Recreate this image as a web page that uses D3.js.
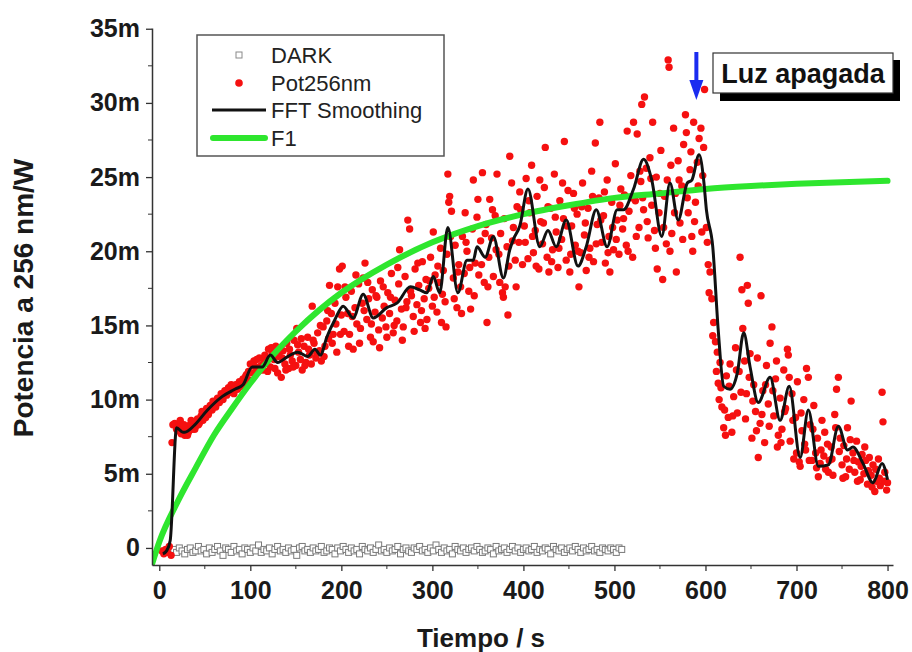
<!DOCTYPE html>
<html>
<head>
<meta charset="utf-8">
<script src="https://cdnjs.cloudflare.com/ajax/libs/d3/7.8.5/d3.min.js"></script>
<style>
  body { margin: 0; background: #fff; }
  svg { display: block; font-family: "Liberation Sans", Arial, sans-serif; }
</style>
</head>
<body>
<svg id="chart" width="912" height="652"></svg>
<script>
// ---- data (values in mW) ----
var xTicks = [0, 100, 200, 300, 400, 500, 600, 700, 800];
var yTicks = [0, 5, 10, 15, 20, 25, 30, 35];
var legendLabels = ["DARK", "Pot256nm", "FFT Smoothing", "F1"];
var noteText = "Luz apagada";
var noteTime = 590;

// DARK: one reading every 3 s starting at 13 s
var darkStart = 13, darkStep = 3;
var darkValues = [
  -0.2, -0.1, -0.3, 0.0, -0.2, -0.4, -0.1, 0.0, -0.3, -0.2,
  0.1, -0.2, -0.1, -0.4, 0.0, -0.3, -0.1, 0.1, -0.2, -0.5,
  0.0, -0.1, -0.3, 0.1, -0.2, -0.1, -0.4, 0.0, -0.1, -0.3,
  0.0, -0.2, 0.2, -0.3, -0.1, -0.2, 0.0, -0.4, -0.1, 0.1,
  -0.2, -0.1, -0.3, 0.0, -0.2, -0.1, -0.5, 0.0, 0.1, -0.2,
  -0.1, -0.3, 0.0, -0.2, -0.1, 0.1, -0.3, -0.2, 0.0, -0.1,
  -0.4, 0.0, -0.2, 0.1, -0.1, -0.3, 0.0, -0.2, -0.1, -0.4,
  0.1, -0.1, -0.2, 0.0, -0.3, -0.1, 0.2, -0.2, -0.1, -0.3,
  0.0, -0.2, -0.1, 0.1, -0.4, -0.1, 0.0, -0.2, -0.3, 0.0,
  -0.1, 0.1, -0.2, -0.1, -0.3, 0.0, -0.2, 0.2, -0.1, -0.3,
  0.0, -0.2, -0.1, -0.4, 0.1, -0.1, -0.2, 0.0, -0.3, -0.1,
  0.0, -0.2, 0.1, -0.1, -0.3, -0.2, 0.0, -0.1, -0.4, 0.1,
  -0.2, -0.1, 0.0, -0.3, -0.1, 0.1, -0.2, 0.0, -0.3, -0.1,
  0.0, -0.2, -0.1, 0.1, -0.3, -0.1, -0.2, 0.0, -0.1, -0.4,
  0.1, -0.1, -0.2, 0.0, -0.3, -0.1, 0.0, -0.2, 0.1, -0.1,
  -0.3, 0.0, -0.2, -0.1, 0.1, -0.2, -0.1, -0.3, 0.0, -0.1,
  -0.2, 0.0, -0.1, -0.3, 0.0, -0.1
];

// Pot256nm scatter [t, value]
var potRise = [
  [3,-0.2],[5,-0.4],[7,-0.1],[9,-0.3],[11,0.1],[13,-0.5],[14,7.1],[15,8.3],[17,8.4],[19,8.0],[21,7.9],
  [22,8.2],[24,7.7],[26,8.0],[28,7.6],[30,8.1],[32,7.8],[34,8.3],[36,8.0],[38,8.5],[40,8.2],[42,8.7],
  [44,8.4],[46,8.9],[48,8.6],[50,9.1],[52,9.4],[54,9.0],[56,9.6],[58,9.3],[60,9.8],[62,9.5],[64,10.1],
  [66,9.8],[68,10.4],[70,10.0],[72,10.6],[74,10.3],[76,10.8],[78,10.5],[80,10.9],[82,10.4],[84,11.0],
  [86,10.7],[88,11.2],[90,10.9],[92,11.4],[94,11.0],[96,11.7],[98,11.9],[100,12.4],[102,11.8],[104,12.6],
  [106,12.2],[108,11.9],[110,12.8],[112,12.3],[114,12.0],[116,13.0],
  [118,12.6],[120,13.4],[122,12.2],[124,13.1],[126,12.7],[128,13.6],[130,11.8],[132,12.9],[134,11.5],
  [136,13.3],[138,12.4],[140,13.8],[142,12.1],[144,13.0],[146,12.6],[148,14.0],[150,12.3],[151,14.8],
  [153,13.2],[155,12.7],[157,12.0],[159,13.6],[161,12.5],[163,14.2],[165,13.0],[167,12.4],[168,16.3],
  [170,13.8],[172,12.8],[174,14.5],[176,13.3],[178,12.6],[180,14.9],[182,13.6],[184,15.3],[186,14.1],
  [187,17.7],[189,15.8],[191,14.4],[193,16.5],[195,13.2],[196,17.6],[198,18.8],[200,15.7],[201,19.0],
  [23,8.6],[27,8.3],[31,7.6],[35,8.6],[39,8.0],[43,8.3],[47,9.2],[51,8.8],[55,9.3],[59,9.9],[63,9.8],
  [67,10.0],[71,10.3],[75,10.5],[79,11.0],[83,10.7],[87,10.9],[91,11.1],[95,11.6],[99,11.3],[103,12.3],
  [107,12.7],[111,12.0],[115,12.6],[119,11.9],[123,13.5],[127,12.1],[131,13.2],[135,12.8],[139,12.0],
  [143,13.4],[147,12.2],[152,13.7],[156,14.1],[160,12.3],[164,13.4],[169,14.0],[173,13.1],[177,15.0],
  [181,12.9],[185,16.0],[190,13.8],[194,15.1],[199,14.4]
];
var potMid = [
  [203,14.6],[205,16.9],[207,15.8],[209,14.4],[211,17.3],[213,13.4],[215,16.2],[217,15.1],[219,17.8],
  [221,14.8],[223,16.5],[224,18.2],[226,19.2],[228,15.4],[230,16.8],[232,14.2],[234,17.4],[235,13.9],
  [237,15.9],[239,16.9],[241,14.7],[243,18.0],[245,15.5],[247,16.3],[249,14.9],[251,17.2],[253,15.8],
  [255,18.5],[257,14.5],[259,16.7],[261,15.3],[263,17.8],[264,20.1],[266,16.1],[268,14.9],[270,18.3],
  [272,16.6],[273,22.1],[275,21.5],[277,17.0],[279,15.6],[281,18.8],[283,16.4],[285,17.7],[287,15.2],
  [289,19.3],[291,16.8],[293,18.1],[294,15.4],[296,17.5],[298,19.6],[300,16.3],[301,21.3],[303,18.4],
  [305,15.9],[307,17.9],[309,20.2],[310,15.2],[312,18.7],[314,16.6],[316,19.8],[317,25.2],[318,23.3],
  [319,23.7],[321,22.7],[323,18.2],[325,20.4],[327,16.2],[329,19.1],[331,17.6],[333,21.0],[335,18.5],
  [336,22.6],[338,20.0],[340,17.3],[342,16.1],[344,21.5],[345,24.8],[347,19.2],[349,22.3],[351,18.4],
  [353,20.7],[355,25.3],[357,17.9],[359,21.8],[360,15.2],[362,19.6],[363,23.5],[365,20.9],[367,18.3],
  [369,22.4],[371,25.2],[373,19.8],[375,21.2],[377,17.2],[378,16.9],[380,17.6],[382,20.3],[383,15.7],
  [385,26.4],[387,24.6],[389,21.6],[391,19.4],[393,23.0],[395,20.6],[397,22.8],[399,19.1],
  [204,17.6],[208,13.6],[212,15.6],[216,18.4],[220,13.8],[225,16.0],[229,17.9],[233,15.1],[238,17.0],
  [242,13.5],[246,17.6],[250,14.2],[254,16.9],[258,15.0],[262,18.9],[267,14.0],[271,16.2],[276,17.3],
  [280,14.6],[284,19.2],[288,16.0],[292,14.8],[297,18.0],[302,16.9],[306,19.0],[311,17.1],[315,14.9],
  [320,21.0],[324,16.8],[328,18.6],[332,15.8],[337,20.6],[341,18.9],[346,17.0],[350,23.5],[354,19.1],
  [358,21.2],[361,17.6],[366,22.8],[370,20.1],[374,17.9],[379,22.2],[384,19.0],[388,20.7],[392,17.6],
  [396,24.0]
];
var potTop = [
  [401,21.7],[403,24.9],[405,19.5],[407,22.6],[409,25.8],[411,19.9],[413,21.4],[415,23.7],[417,18.8],
  [419,22.0],[421,20.5],[423,24.3],[424,27.0],[426,19.6],[428,18.6],[430,22.9],[432,20.1],[434,25.2],
  [436,21.3],[438,18.9],[440,23.4],[442,20.8],[444,22.2],[445,27.4],[447,19.4],[449,24.1],[451,18.6],
  [453,21.7],[455,23.9],[457,20.4],[459,22.5],[461,17.6],[463,19.9],[465,24.6],[467,21.1],[469,18.7],
  [471,22.9],[473,20.2],[475,25.4],[477,19.3],[479,27.3],[481,21.8],[483,23.6],[484,28.7],[486,20.6],
  [488,22.4],[490,19.2],[492,24.8],[494,21.0],[495,18.6],[497,23.3],[499,20.1],[501,25.9],[503,22.1],
  [505,19.8],[507,24.2],[509,21.5],[511,23.8],[513,20.4],[514,28.1],[516,22.7],[518,25.1],[520,19.6],
  [521,28.7],[523,23.4],[525,27.9],[527,21.6],[529,24.7],[530,29.9],[532,22.8],[533,30.4],[535,25.6],
  [537,20.9],[539,26.3],[541,23.1],[542,28.7],[544,21.4],[546,25.0],[547,18.8],[549,22.6],[551,26.8],
  [553,18.1],[555,23.7],[557,20.5],[559,32.9],[560,32.4],[562,25.8],[563,21.2],[565,28.3],[567,23.9],
  [568,18.6],[570,26.1],[572,21.9],[574,24.4],[576,27.2],[578,29.2],[579,28.0],[581,22.6],[583,25.5],
  [585,21.0],[586,20.0],[587,28.7],[589,23.3],[591,26.0],[593,27.6],[595,28.3],[597,25.1],[598,27.0],
  [599,30.9],
  [402,20.6],[406,23.4],[410,21.0],[414,19.0],[418,24.8],[422,21.9],[427,23.0],[431,19.3],[435,22.3],
  [439,20.2],[443,24.6],[448,21.7],[452,19.8],[456,22.9],[460,20.0],[464,23.0],[468,21.9],[472,19.6],
  [476,23.7],[480,20.5],[485,22.1],[489,24.0],[493,19.9],[498,21.6],[502,20.8],[506,23.1],[510,22.2],
  [515,20.0],[519,23.6],[524,21.0],[528,25.4],[531,23.6],[536,22.0],[540,24.9],[545,20.2],[550,23.9],
  [554,21.6],[558,24.8],[561,20.0],[566,22.6],[571,24.8],[575,20.8],[580,23.6],[584,26.7],[588,22.0],
  [592,24.4],[596,21.3]
];
var potDecay = [
  [601,21.6],[602,20.6],[603,19.1],[605,18.6],[607,16.8],[609,15.2],[611,13.9],[613,13.2],[614,11.1],
  [615,10.0],[616,12.5],[618,9.5],[620,8.1],[621,9.3],[623,11.6],[625,8.8],[627,12.4],[629,7.8],
  [631,10.2],[633,13.5],[635,9.1],[637,11.9],[638,19.6],[640,17.4],[641,14.8],[643,12.6],[645,10.4],
  [646,17.7],[647,16.5],[649,13.1],[651,7.4],[653,11.0],[655,9.2],[657,12.8],[658,6.1],[660,8.4],
  [661,17.0],[663,10.6],[665,7.1],[667,12.3],[669,9.7],[671,13.8],[673,14.9],[675,8.9],[677,11.4],
  [679,6.8],[680,7.6],[682,10.1],[684,8.0],[686,12.0],[688,9.4],[690,13.4],[691,13.0],[693,7.2],
  [695,10.4],[697,6.0],[699,8.8],[701,11.2],[703,5.8],[704,5.5],[706,7.9],[708,10.0],[710,6.6],
  [711,12.1],[713,11.5],[715,8.3],[717,5.9],[719,9.6],[721,6.4],[723,7.4],[724,4.8],[726,5.7],
  [728,8.6],[730,6.2],[732,5.3],[734,7.0],[736,5.9],[738,6.8],[740,4.9],[742,9.0],[744,10.7],
  [746,11.5],[748,7.4],[750,5.6],[752,6.9],[754,4.8],[756,8.1],[758,5.3],[760,9.9],[762,6.4],
  [764,5.1],[766,7.2],[768,5.8],[770,4.6],[772,6.3],[774,5.0],[776,5.9],[778,4.3],[780,6.1],
  [782,4.9],[784,5.6],[786,3.8],[788,4.5],[790,6.0],[792,4.2],[794,10.5],[795,8.5],[797,5.1],
  [799,3.9],[800,4.4],
  [604,17.2],[608,14.3],[612,11.9],[617,10.8],[622,7.6],[626,10.9],[630,8.9],[634,12.0],[639,10.5],
  [644,8.7],[648,11.5],[652,9.9],[656,7.9],[662,9.0],[666,11.0],[670,8.2],[674,10.6],[678,12.6],
  [683,7.1],[687,9.2],[692,11.5],[696,8.6],[700,6.4],[705,9.1],[709,7.0],[714,5.9],[718,8.0],
  [722,5.4],[727,6.6],[731,7.8],[735,5.1],[739,6.0],[743,8.1],[747,6.5],[751,4.7],[755,6.0],
  [759,7.3],[763,5.9],[767,4.5],[771,5.5],[775,6.8],[779,5.2],[783,4.1],[787,5.3],[791,4.7],
  [796,4.5]
];

// FFT smoothing, sampled at its turning points
var fftCurve = [
  [4,-0.4],[8,-0.2],[12,0.5],[19,8.1],[26,7.8],[28,7.8],[39,8.3],[53,9.3],[69,10.2],[83,10.7],
  [92,11.0],[102,12.2],[113,12.2],[122,13.0],[130,12.5],[141,12.9],[152,13.2],[163,12.9],[171,13.4],
  [177,13.0],[184,14.2],[193,15.4],[202,16.3],[213,15.5],[224,17.1],[235,15.5],[250,16.2],[261,16.5],
  [276,17.6],[286,17.4],[294,17.2],[301,18.3],[308,17.2],[317,21.6],[328,17.2],[338,19.4],[345,19.4],
  [349,20.3],[358,19.6],[367,21.0],[378,18.2],[385,20.1],[389,20.8],[396,21.7],[405,24.2],[418,20.3],
  [427,21.4],[436,20.3],[447,22.1],[460,19.0],[469,20.3],[480,22.8],[492,20.3],[503,22.8],[510,22.8],
  [521,24.2],[532,26.2],[541,24.8],[552,21.0],[561,24.6],[570,22.1],[580,24.6],[585,24.8],[593,26.5],
  [598,24.8],[601,22.8],[608,20.3],[614,14.7],[620,10.9],[627,10.7],[635,11.8],[642,14.5],[649,12.2],
  [658,9.8],[671,11.5],[682,8.6],[692,10.9],[704,6.1],[713,9.3],[724,5.5],[735,5.6],[746,8.2],
  [756,6.6],[762,6.8],[773,5.7],[784,4.4],[794,5.7],[800,4.6]
];

// F1 fit curve, read at these times
var f1Time  = [-8, 0, 20, 40, 60, 80, 100, 125, 150, 175, 200, 250, 300, 350, 400, 450, 500, 550, 600, 650, 700, 750, 800];
var f1Value = [-1.1, 0.4, 3.1, 5.4, 7.6, 9.4, 11.1, 13.0, 14.6, 16.0, 17.2, 19.1, 20.6, 21.7, 22.5, 23.1, 23.6, 23.9, 24.2, 24.4, 24.55, 24.65, 24.75];

// ---- chart ----
var svg = d3.select("#chart");
var plotL = 152, plotR = 893, plotT = 28, plotB = 565;

var x = d3.scaleLinear().domain([-8, 806]).range([plotL, plotR]);
var y = d3.scaleLinear().domain([-1.15, 35.05]).range([plotB, plotT]);

svg.append("defs").append("clipPath").attr("id", "plotclip")
  .append("rect").attr("x", plotL).attr("y", plotT).attr("width", plotR - plotL).attr("height", plotB - plotT);

var plot = svg.append("g").attr("clip-path", "url(#plotclip)");

// DARK squares
var darkData = darkValues.map(function (v, i) { return [darkStart + darkStep * i, v]; });
plot.append("g").selectAll("rect").data(darkData).enter().append("rect")
  .attr("x", function (d) { return x(d[0]) - 3; })
  .attr("y", function (d) { return y(d[1]) - 3; })
  .attr("width", 6).attr("height", 6)
  .attr("fill", "#fff").attr("stroke", "#7a7a7a").attr("stroke-width", 1);

// red scatter
var potAll = potRise.concat(potMid, potTop, potDecay);
plot.append("g").selectAll("circle").data(potAll).enter().append("circle")
  .attr("cx", function (d) { return x(d[0]); })
  .attr("cy", function (d) { return y(d[1]); })
  .attr("r", 3.7)
  .attr("fill", "#f51010");

// F1 fit
var f1Data = f1Time.map(function (t, i) { return [t, f1Value[i]]; });
var line = d3.line()
  .x(function (d) { return x(d[0]); })
  .y(function (d) { return y(d[1]); });

plot.append("path").datum(f1Data)
  .attr("d", line.curve(d3.curveMonotoneX))
  .attr("fill", "none").attr("stroke", "#2ee62e").attr("stroke-width", 6)
  .attr("stroke-linecap", "round");

// FFT smoothing
plot.append("path").datum(fftCurve)
  .attr("d", line.curve(d3.curveMonotoneX))
  .attr("fill", "none").attr("stroke", "#111").attr("stroke-width", 3)
  .attr("stroke-linejoin", "round");

// axes
var xAxis = d3.axisBottom(x).tickValues(xTicks).tickSize(6).tickSizeOuter(0).tickPadding(10)
  .tickFormat(function (d) { return d; });
var yAxis = d3.axisLeft(y).tickValues(yTicks).tickSize(6).tickSizeOuter(0).tickPadding(6)
  .tickFormat(function (d) { return d === 0 ? "0" : d + "m"; });

var gx = svg.append("g").attr("transform", "translate(0," + plotB + ")").call(xAxis);
var gy = svg.append("g").attr("transform", "translate(" + plotL + ",0)").call(yAxis);

// minor ticks
gx.selectAll(".minor").data(xTicks.slice(0, -1)).enter().append("line")
  .attr("x1", function (d) { return x(d + 50); }).attr("x2", function (d) { return x(d + 50); })
  .attr("y1", 0).attr("y2", 4).attr("stroke", "#333");
gy.selectAll(".minor").data(yTicks.slice(0, -1)).enter().append("line")
  .attr("y1", function (d) { return y(d + 2.5); }).attr("y2", function (d) { return y(d + 2.5); })
  .attr("x1", 0).attr("x2", -4).attr("stroke", "#333");

[gx, gy].forEach(function (g) {
  g.select(".domain").attr("stroke", "#333").attr("stroke-width", 1.5);
  g.selectAll(".tick line").attr("stroke", "#333").attr("stroke-width", 1.3);
  g.selectAll("text").attr("font-family", "Liberation Sans, Arial, sans-serif")
    .attr("font-size", 25).attr("font-weight", "bold").attr("fill", "#1a1a1a");
});

// axis titles
svg.append("text").attr("x", 481).attr("y", 647).attr("text-anchor", "middle")
  .attr("font-size", 26).attr("font-weight", "bold").attr("fill", "#1a1a1a")
  .text("Tiempo / s");
svg.append("text").attr("transform", "translate(33,298) rotate(-90)").attr("text-anchor", "middle")
  .attr("font-size", 28).attr("font-weight", "bold").attr("fill", "#1a1a1a")
  .text("Potencia a 256 nm/W");

// legend
var lg = svg.append("g");
lg.append("rect").attr("x", 197).attr("y", 35).attr("width", 247).attr("height", 121)
  .attr("fill", "#fff").attr("stroke", "#555").attr("stroke-width", 1.5);
var rowY = [55, 83, 110, 138];
lg.append("rect").attr("x", 236).attr("y", rowY[0] - 3).attr("width", 6).attr("height", 6)
  .attr("fill", "#fff").attr("stroke", "#8a8a8a");
lg.append("circle").attr("cx", 239).attr("cy", rowY[1]).attr("r", 3.8).attr("fill", "#f51010");
lg.append("line").attr("x1", 212).attr("x2", 266).attr("y1", rowY[2]).attr("y2", rowY[2])
  .attr("stroke", "#111").attr("stroke-width", 3);
lg.append("line").attr("x1", 213).attr("x2", 265).attr("y1", rowY[3]).attr("y2", rowY[3])
  .attr("stroke", "#2ee62e").attr("stroke-width", 6).attr("stroke-linecap", "round");
lg.selectAll("text.lab").data(legendLabels).enter().append("text")
  .attr("x", 271).attr("y", function (d, i) { return rowY[i] + 8; })
  .attr("font-size", 22).attr("fill", "#222")
  .text(function (d) { return d; });

// "Luz apagada" note with shadow and arrow
var ng = svg.append("g");
ng.append("rect").attr("x", 720).attr("y", 60).attr("width", 180).attr("height", 41).attr("fill", "#000");
ng.append("rect").attr("x", 713).attr("y", 53).attr("width", 180).attr("height", 40)
  .attr("fill", "#fff").attr("stroke", "#333").attr("stroke-width", 1.2);
ng.append("text").attr("x", 803).attr("y", 83).attr("text-anchor", "middle")
  .attr("font-size", 27).attr("font-weight", "bold").attr("fill", "#111").text(noteText);

var ax = x(noteTime);
ng.append("line").attr("x1", ax).attr("x2", ax).attr("y1", 52).attr("y2", 84)
  .attr("stroke", "#1a2cf0").attr("stroke-width", 4);
ng.append("path")
  .attr("d", "M" + (ax - 7) + ",80 L" + (ax + 7) + ",80 L" + ax + ",100 Z")
  .attr("fill", "#1a2cf0");
</script>
</body>
</html>
